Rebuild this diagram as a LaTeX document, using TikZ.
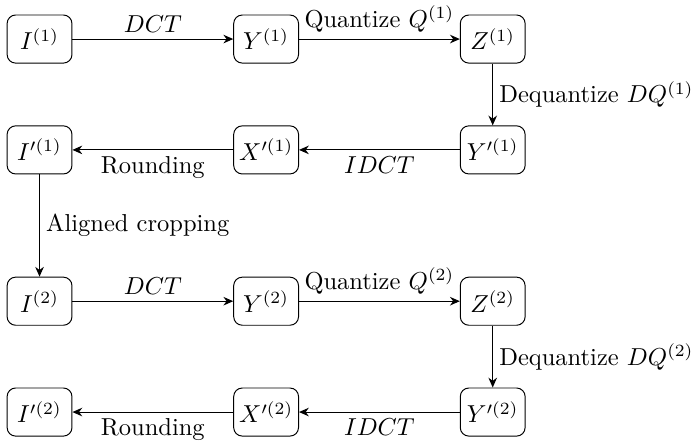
\documentclass[tikz,border=0pt]{standalone}
\usepackage{amsmath,amssymb}
\usepackage{tikz}
\usetikzlibrary{arrows.meta,positioning}
\tikzset{
  blk/.style={draw, rectangle, rounded corners=3.5pt, minimum width=9.3mm, minimum height=6.9mm, inner sep=1pt},
  flow/.style={-{Stealth[length=4pt,width=3.5pt]}},
  lbl/.style={font=\normalsize, inner sep=2.5pt}
}

\begin{document}
\begin{tikzpicture}[node distance=1.59cm and 3.25cm, on grid]
\useasboundingbox (0,0) rectangle (9.94,-6.40);
% first round
\node[blk] (i1) at (0.567,-0.56) {$I^{(1)}$};
\node[blk, right=of i1] (y1) {$Y^{(1)}$};
\node[blk, right=of y1] (z1) {$Z^{(1)}$};
\node[blk, below=of z1] (yp1) {$Y'^{(1)}$};
\node[blk, below=of y1] (xp1) {$X'^{(1)}$};
\node[blk, below=of i1] (ip1) {$I'^{(1)}$};
% second round
\node[blk, below=2.17cm of ip1] (i2) {$I^{(2)}$};
\node[blk, right=of i2] (y2) {$Y^{(2)}$};
\node[blk, right=of y2] (z2) {$Z^{(2)}$};
\node[blk, below=of z2] (yp2) {$Y'^{(2)}$};
\node[blk, below=of y2] (xp2) {$X'^{(2)}$};
\node[blk, below=of i2] (ip2) {$I'^{(2)}$};

\draw[flow] (i1) -- node[lbl, above] {$DCT$} (y1);
\draw[flow] (y1) -- node[lbl, above] {Quantize $Q^{(1)}$} (z1);
\draw[flow] (z1) -- node[lbl, right] {Dequantize $DQ^{(1)}$} (yp1);
\draw[flow] (yp1) -- node[lbl, below] {$IDCT$} (xp1);
\draw[flow] (xp1) -- node[lbl, below] {Rounding} (ip1);
\draw[flow] (ip1) -- node[lbl, right] {Aligned cropping} (i2);
\draw[flow] (i2) -- node[lbl, above] {$DCT$} (y2);
\draw[flow] (y2) -- node[lbl, above] {Quantize $Q^{(2)}$} (z2);
\draw[flow] (z2) -- node[lbl, right] {Dequantize $DQ^{(2)}$} (yp2);
\draw[flow] (yp2) -- node[lbl, below] {$IDCT$} (xp2);
\draw[flow] (xp2) -- node[lbl, below] {Rounding} (ip2);
\end{tikzpicture}
\end{document}
